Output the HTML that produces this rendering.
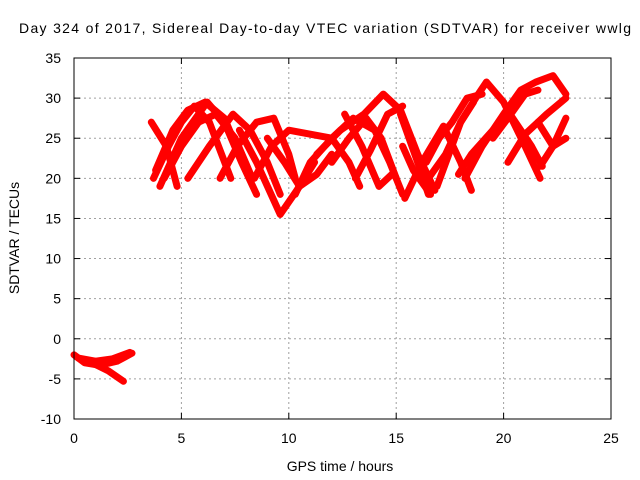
<!DOCTYPE html>
<html><head><meta charset="utf-8">
<style>
body{margin:0;background:#fff;}
svg{display:block;font-family:"Liberation Sans",sans-serif;}
</style></head>
<body>
<svg id="chart" width="640" height="480">
<rect width="640" height="480" fill="#fff"/>
<g id="grid"></g>
<g id="series"></g>
<g id="axes"></g>
</svg>
<script>
const xTicks=[0,5,10,15,20,25];
const yTicks=[-10,-5,0,5,10,15,20,25,30,35];
const titleText="Day 324 of 2017, Sidereal Day-to-day VTEC variation (SDTVAR) for receiver wwlg";
const arc1=[[0,-2],[0.5,-3],[1.2,-3.3],[2,-2.8],[2.7,-1.8]];
const arc2=[[0.3,-2.5],[1,-3.2],[1.6,-4],[2.3,-5.3]];
const arc2b=[[0.2,-2.4],[1,-2.8],[1.8,-2.5],[2.6,-1.7]];
const arc3=[[3.7,20],[4.4,24],[5.0,27],[5.6,29],[6.3,27],[7.3,20]];
const arc4=[[3.8,21],[4.6,26],[5.3,28.5],[6.1,29.5],[7,27.5],[8.2,20]];
const arc5=[[3.6,27],[4.3,24],[4.8,19]];
const arc6=[[4.0,19],[5.0,25],[6.2,29.5],[7.0,27],[7.8,22],[8.5,18]];
const arc7=[[5.3,20],[6.3,24],[7.4,28],[8.2,26],[9,22],[9.6,18]];
const arc8=[[6.8,20],[7.6,24],[8.5,27],[9.3,27.5],[10,23],[10.3,20]];
const arc9=[[7.7,26],[8.5,22],[9.6,15.5],[10.5,19],[11.2,22]];
const arc10=[[8.4,20],[9.2,24],[10,26],[11,25.5],[12,25],[12.8,22],[13.3,19]];
const arc11=[[10.3,18],[11,22],[12,25],[13,27.5],[14,26],[14.7,22],[15.3,18]];
const arc12=[[11.3,23],[12.4,26],[13.5,28],[14.4,30.5],[15.2,28.5],[16,23],[16.8,18.5]];
const arc13=[[12.6,28],[13.4,24],[14.2,19],[14.8,20.5]];
const arc14=[[15.2,28],[16,22],[16.5,18]];
const arc15=[[15.4,17.5],[16.2,22],[17.2,26.5],[18,22],[18.5,18.5]];
const arc16=[[16.9,19],[18,27],[18.7,30],[19.2,32],[20,29.5],[21,24],[21.7,20]];
const arc17=[[18.2,20],[19,24],[20,28],[20.8,31],[21.5,32],[22.3,32.8],[22.9,30.5]];
const arc18=[[20.2,22],[21,25.5],[22,28],[22.9,30]];
const arc19=[[17.9,20.5],[18.5,23],[19.5,26],[20.3,28],[21.3,24],[21.8,21.5]];
const arc20=[[21.7,21.5],[22.3,24],[22.9,27.5]];
const arc21=[[21.6,27],[22.3,24],[22.9,25]];
const arc22=[[15.3,24],[15.8,21],[16.6,18]];
const arc23=[[16.4,22],[17.0,25],[17.6,27],[18.3,30],[19.0,30.5]];
const arc24=[[4.2,20],[5.0,24],[5.8,27],[6.6,28],[7.5,25],[8.3,20]];
const arc25=[[9.0,25],[9.8,22],[10.5,19],[11.3,20.5],[12.0,23]];
const arc26=[[12.0,22],[12.8,25],[13.6,27.5],[14.3,25],[15.0,20]];
const arc27=[[13.1,20],[13.8,23.5],[14.6,28],[15.3,29]];
const arc28=[[16.5,20],[17.3,23],[18.0,27],[18.6,29.5]];
const arc29=[[19.5,25],[20.2,27.5],[21,30.5],[21.6,31]];
const arcs=[arc1,arc2,arc2b,arc3,arc4,arc5,arc6,arc7,arc8,arc9,arc10,arc11,arc12,arc13,arc14,arc15,arc16,arc17,arc18,arc19,arc20,arc21,arc22,arc23,arc24,arc25,arc26,arc27,arc28,arc29];

const X0=74,X1=611,Y0=419,Y1=58;
const xs=v=>X0+(v-0)/(25-0)*(X1-X0);
const ys=v=>Y0-(v+10)/(45)*(Y0-Y1);
const NS="http://www.w3.org/2000/svg";
function mk(tag,attrs,parent){const e=document.createElementNS(NS,tag);for(const k in attrs)e.setAttribute(k,attrs[k]);parent.appendChild(e);return e;}
const grid=document.getElementById('grid'),axes=document.getElementById('axes'),series=document.getElementById('series');

xTicks.forEach(t=>{
  if(t>0&&t<25){const g=mk('line',{x1:xs(t),x2:xs(t),y1:Y0,y2:Y1,stroke:'#a0a0a0','stroke-dasharray':'2,3'},grid);
  
  }
  const tk=mk('line',{x1:xs(t),x2:xs(t),y1:Y0,y2:Y0-6,stroke:'#000'},axes);
  
  
  const tk2=mk('line',{x1:xs(t),x2:xs(t),y1:Y1,y2:Y1+6,stroke:'#000'},axes);
  
  
  const l=mk('text',{x:xs(t),y:443,'text-anchor':'middle','font-size':'14',fill:'#000'},axes);
  l.textContent=t;
  
  
});
yTicks.forEach(t=>{
  if(t>-10&&t<35){const g=mk('line',{x1:X0,x2:X1,y1:ys(t),y2:ys(t),stroke:'#a0a0a0','stroke-dasharray':'2,3'},grid);
  
  }
  const tk=mk('line',{x1:X0,x2:X0+6,y1:ys(t),y2:ys(t),stroke:'#000'},axes);
  
  
  const tk2=mk('line',{x1:X1,x2:X1-6,y1:ys(t),y2:ys(t),stroke:'#000'},axes);
  
  
  const l=mk('text',{x:61,y:ys(t)+5,'text-anchor':'end','font-size':'14',fill:'#000'},axes);
  l.textContent=t;
  
  
});
const fr=mk('rect',{x:X0,y:Y1,width:X1-X0,height:Y0-Y1,fill:'none',stroke:'#000'},axes);



arcs.forEach(a=>{
  const p=mk('polyline',{points:a.map(d=>xs(d[0])+','+ys(d[1])).join(' '),fill:'none',stroke:'#ff0000','stroke-width':7,'stroke-linejoin':'round','stroke-linecap':'round'},series);
  
  
});

const t=mk('text',{x:325,y:33,'text-anchor':'middle','font-size':'14',fill:'#000',textLength:'612',lengthAdjust:'spacing'},axes);
t.textContent=titleText;


const xl=mk('text',{x:340,y:471,'text-anchor':'middle','font-size':'14',fill:'#000'},axes);
xl.textContent="GPS time / hours";


const yl=mk('text',{x:0,y:0,'text-anchor':'middle','font-size':'14',fill:'#000',transform:'translate(19,238) rotate(-90)'},axes);
yl.textContent="SDTVAR / TECUs";


</script>
</body></html>
